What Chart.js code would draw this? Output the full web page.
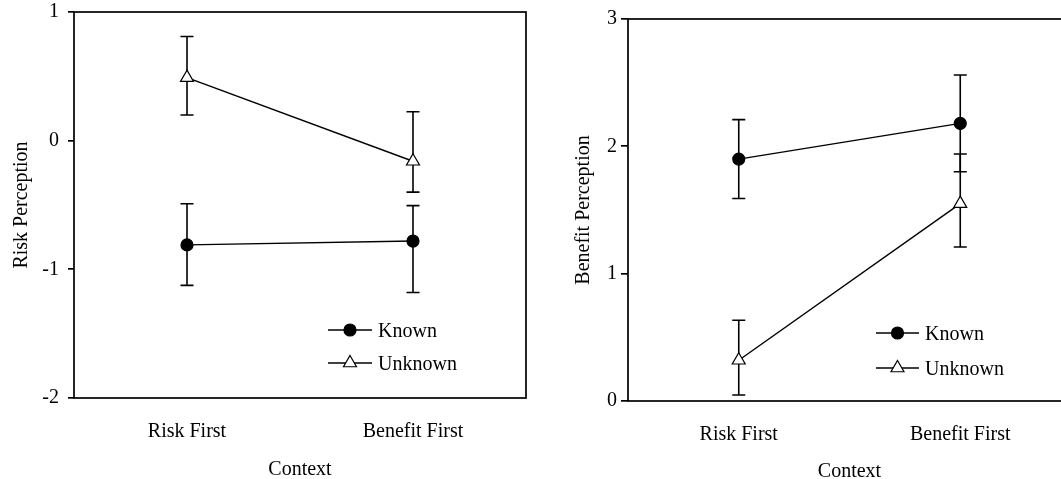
<!DOCTYPE html>
<html>
<head>
<meta charset="utf-8">
<script src="https://cdn.jsdelivr.net/npm/chart.js@4"></script>
<style>
html, body { margin: 0; padding: 0; background: #fff; overflow: hidden; width: 1061px; height: 479px; }
.boite { position: absolute; top: 0; overflow: hidden; }
</style>
</head>
<body>
<div class="boite" style="left:0;width:540px;height:479px"><canvas id="gauche" width="540" height="482"></canvas></div>
<div class="boite" style="left:540px;width:521px;height:479px"><canvas id="droite" width="540" height="484"></canvas></div>
<script>
// categories et series
var contextes = ['Risk First', 'Benefit First'];
var series = ['Known', 'Unknown'];

// graphique de gauche : perception du risque
var risqueConnu = [-0.81, -0.78];
var risqueConnuBas = [-1.125, -1.18];
var risqueConnuHaut = [-0.49, -0.505];
var risqueInconnu = [0.49, -0.16];
var risqueInconnuBas = [0.20, -0.40];
var risqueInconnuHaut = [0.81, 0.225];
var risqueTicks = [1, 0, -1, -2];

// graphique de droite : perception du benefice
var beneficeConnu = [1.90, 2.18];
var beneficeConnuBas = [1.59, 1.80];
var beneficeConnuHaut = [2.21, 2.56];
var beneficeInconnu = [0.32, 1.55];
var beneficeInconnuBas = [0.047, 1.21];
var beneficeInconnuHaut = [0.634, 1.94];
var beneficeTicks = [3, 2, 1, 0];

var police = 'Liberation Serif, Times New Roman, serif';

// barres d'erreur, dessinees sous les marqueurs
var barresErreur = {
    id: 'barresErreur',
    beforeDatasetsDraw: function(chart) {
        var ctx = chart.ctx, sx = chart.scales.x, sy = chart.scales.y;
        ctx.save();
        ctx.strokeStyle = '#000';
        ctx.lineWidth = 1.6;
        chart.data.datasets.forEach(function(ds) {
            ds.bas.forEach(function(b, i) {
                var px = sx.getPixelForValue(i);
                var yb = sy.getPixelForValue(b);
                var yh = sy.getPixelForValue(ds.haut[i]);
                ctx.beginPath();
                ctx.moveTo(px, yb); ctx.lineTo(px, yh);
                ctx.moveTo(px - 6.5, yb); ctx.lineTo(px + 6.5, yb);
                ctx.moveTo(px - 6.5, yh); ctx.lineTo(px + 6.5, yh);
                ctx.stroke();
            });
        });
        ctx.restore();
    }
};

// cadre autour de la zone du graphique
var cadre = {
    id: 'cadre',
    beforeDatasetsDraw: function(chart) {
        var a = chart.chartArea, ctx = chart.ctx;
        ctx.save();
        ctx.strokeStyle = '#000';
        ctx.lineWidth = 1.7;
        ctx.strokeRect(a.left, a.top, a.right - a.left, a.bottom - a.top);
        ctx.restore();
    }
};

function marqueur(ctx, style, x, y) {
    ctx.beginPath();
    if (style === 'circle') {
        ctx.arc(x, y, 6, 0, Math.PI * 2);
        ctx.fillStyle = '#000';
    } else {
        var r = 7.5;
        ctx.moveTo(x, y - r);
        ctx.lineTo(x + r * Math.sin(Math.PI * 2 / 3), y + r / 2);
        ctx.lineTo(x - r * Math.sin(Math.PI * 2 / 3), y + r / 2);
        ctx.closePath();
        ctx.fillStyle = '#fff';
    }
    ctx.fill();
    ctx.lineWidth = 1.2;
    ctx.strokeStyle = '#000';
    ctx.stroke();
}

// legende : trait + marqueur + texte
var legendeMaison = {
    id: 'legendeMaison',
    afterDatasetsDraw: function(chart, args, opts) {
        var ctx = chart.ctx;
        ctx.save();
        chart.data.datasets.forEach(function(ds, i) {
            var y = opts.y[i];
            ctx.beginPath();
            ctx.moveTo(opts.x, y);
            ctx.lineTo(opts.x + opts.longueur, y);
            ctx.lineWidth = 1.4;
            ctx.strokeStyle = '#000';
            ctx.stroke();
            marqueur(ctx, ds.pointStyle, opts.x + opts.longueur / 2, y);
            ctx.fillStyle = '#000';
            ctx.font = '20px ' + police;
            ctx.textBaseline = 'alphabetic';
            ctx.textAlign = 'left';
            ctx.fillText(ds.label, opts.x + opts.longueur + 6, y + 7);
        });
        ctx.restore();
    }
};

function serie(label, data, bas, haut, style, fond) {
    return {
        label: label,
        data: data,
        bas: bas,
        haut: haut,
        borderColor: '#000',
        borderWidth: 1.4,
        tension: 0,
        pointStyle: style,
        pointRadius: style === 'circle' ? 6 : 7.5,
        pointBackgroundColor: fond,
        pointBorderColor: '#000',
        pointBorderWidth: 1.2
    };
}

function graphique(id, datasets, ticks, titreY, m) {
    var ctx = document.getElementById(id).getContext('2d');
    return new Chart(ctx, {
        type: 'line',
        data: { labels: contextes, datasets: datasets },
        plugins: [cadre, barresErreur, legendeMaison],
        options: {
            responsive: false,
            animation: false,
            layout: { padding: { top: m.haut, right: m.droite, left: 0, bottom: 0 } },
            plugins: {
                legend: { display: false },
                tooltip: { enabled: false },
                legendeMaison: m.legende
            },
            scales: {
                x: {
                    type: 'category',
                    offset: true,
                    grid: { display: false, drawTicks: false },
                    border: { display: false },
                    ticks: { color: '#000', font: { family: police, size: 20 }, padding: m.padX, maxRotation: 0 },
                    title: { display: true, text: 'Context', color: '#000', font: { family: police, size: 20 }, padding: { top: 0, bottom: 0 } },
                    afterFit: function(s) { s.height = m.hautX; s.paddingLeft = 0; s.paddingRight = 0; }
                },
                y: {
                    min: Math.min.apply(null, ticks),
                    max: Math.max.apply(null, ticks),
                    afterBuildTicks: function(s) { s.ticks = ticks.map(function(v) { return { value: v }; }); },
                    grid: { drawOnChartArea: false, drawTicks: true, tickLength: m.tick, color: '#000', lineWidth: 1.7 },
                    border: { display: false },
                    ticks: { color: '#000', font: { family: police, size: 20 }, padding: m.padY },
                    title: { display: true, text: titreY, color: '#000', font: { family: police, size: 20 }, padding: { top: m.padTitre, bottom: 0 } },
                    afterFit: function(s) { s.width = m.largeurY; s.paddingTop = 0; s.paddingBottom = 0; }
                }
            }
        }
    });
}

graphique('gauche', [
    serie(series[0], risqueConnu, risqueConnuBas, risqueConnuHaut, 'circle', '#000'),
    serie(series[1], risqueInconnu, risqueInconnuBas, risqueInconnuHaut, 'triangle', '#fff')
], risqueTicks, 'Risk Perception', {
    haut: 12, droite: 14, hautX: 84, largeurY: 74, tick: 6, padY: 9, padX: 22, padTitre: 9.5,
    legende: { x: 328, y: [330, 363], longueur: 44 }
});

graphique('droite', [
    serie(series[0], beneficeConnu, beneficeConnuBas, beneficeConnuHaut, 'circle', '#000'),
    serie(series[1], beneficeInconnu, beneficeInconnuBas, beneficeInconnuHaut, 'triangle', '#fff')
], beneficeTicks, 'Benefit Perception', {
    haut: 19, droite: 9, hautX: 83, largeurY: 88, tick: 7, padY: 4, padX: 22, padTitre: 32,
    legende: { x: 336, y: [333, 368], longueur: 43 }
});
</script>
</body>
</html>
